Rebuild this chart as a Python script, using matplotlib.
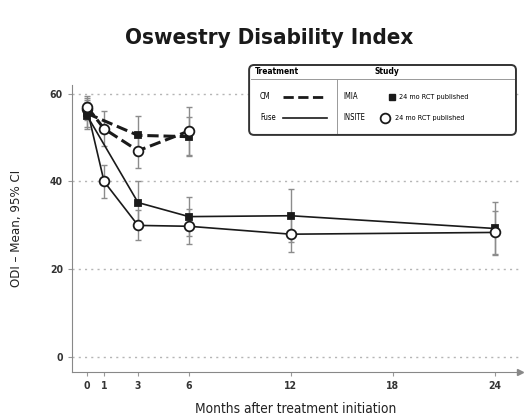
import numpy as np
import matplotlib.pyplot as plt
from matplotlib.patches import FancyBboxPatch
from matplotlib.lines import Line2D

plt.rcParams['font.family'] = ['DejaVu Sans']
plt.rcParams['font.stretch'] = 'condensed'
plt.rcParams['figure.dpi'] = 100

# data: mean ODI and half width of 95% CI
imia_cm_x = [0, 3, 6]
imia_cm_y = [55.5, 50.5, 50.2]
imia_cm_ci = [3.0, 4.5, 4.5]

insite_cm_x = [0, 1, 3, 6]
insite_cm_y = [57.0, 52.0, 47.0, 51.5]
insite_cm_ci = [2.5, 4.0, 4.0, 5.5]

imia_fuse_x = [0, 3, 6, 12, 24]
imia_fuse_y = [55.0, 35.2, 32.0, 32.2, 29.3]
imia_fuse_ci = [3.0, 5.0, 4.5, 6.0, 6.0]

insite_fuse_x = [0, 1, 3, 6, 12, 24]
insite_fuse_y = [56.5, 40.0, 30.0, 29.8, 28.0, 28.4]
insite_fuse_ci = [2.5, 3.8, 3.4, 4.0, 4.0, 4.8]

x_ticks = [0, 1, 3, 6, 12, 18, 24]
y_ticks = [0, 20, 40, 60]

line_col = '#1a1a1a'
err_col = '#8c8c8c'

fig = plt.figure(figsize=(5.28, 4.2))
ax = fig.add_axes([0.136, 0.114, 0.849, 0.684])

series = [
    (imia_fuse_x, imia_fuse_y, imia_fuse_ci, '-', 's', line_col),
    (insite_fuse_x, insite_fuse_y, insite_fuse_ci, '-', 'o', 'white'),
    (imia_cm_x, imia_cm_y, imia_cm_ci, '--', 's', line_col),
    (insite_cm_x, insite_cm_y, insite_cm_ci, '--', 'o', 'white'),
]
for xs, ys, ci, ls, mk, fc in series:
    ax.errorbar(xs, ys, yerr=ci, fmt='none', ecolor=err_col, elinewidth=1.0,
                capsize=2.5, capthick=1.0, zorder=2)
    lw = 2.2 if ls == '--' else 1.2
    ax.plot(xs, ys, linestyle=ls, color=line_col, lw=lw, marker=mk,
            markersize=7 if mk == 'o' else 5, markerfacecolor=fc,
            markeredgecolor=line_col, markeredgewidth=1.3, zorder=3)

for v in y_ticks:
    ax.axhline(v, color='#b5b5b5', lw=1.0, ls=(0, (1.5, 3)), zorder=1)

ax.set_xlim(-0.9, 25.5)
ax.set_ylim(-3.4, 62)
ax.set_xticks(x_ticks)
ax.set_yticks(y_ticks)
ax.tick_params(axis='both', labelsize=7.5, colors='#333333', length=3, color='#999999')
for t in ax.get_xticklabels() + ax.get_yticklabels():
    t.set_fontweight('bold')
ax.spines['top'].set_visible(False)
ax.spines['right'].set_visible(False)
ax.spines['left'].set_color('#888888')
ax.spines['bottom'].set_color('#888888')
ax.plot(1, 0, '>', color='#888888', markersize=5, transform=ax.transAxes, clip_on=False)
ax.set_xlabel('Months after treatment initiation', fontsize=9.8, color='#222222', labelpad=8)
ax.set_ylabel('ODI \u2013 Mean, 95% CI', fontsize=9.5, color='#222222', labelpad=19)

fig.text(0.51, 0.91, 'Oswestry Disability Index', ha='center', va='center',
         fontsize=16, fontweight='bold', color='#1a1a1a')

# legend box
lg = fig.add_axes([0.468, 0.674, 0.513, 0.176])
lg.set_xlim(0, 271)
lg.set_ylim(74, 0)
lg.axis('off')
lg.add_patch(FancyBboxPatch((2, 2), 267, 70, boxstyle='round,pad=0,rounding_size=5',
                            fc='white', ec='#333333', lw=1.4))
lg.plot([4, 267], [16, 16], color='#999999', lw=0.7)
lg.plot([90, 90], [16, 70], color='#999999', lw=0.7)
lg.text(30, 9, 'Treatment', fontsize=6, fontweight='bold', ha='center', va='center')
lg.text(140, 9, 'Study', fontsize=6, fontweight='bold', ha='center', va='center')
lg.text(18, 34, 'CM', fontsize=5.5, ha='center', va='center')
lg.text(21, 55, 'Fuse', fontsize=5.5, ha='center', va='center')
lg.add_line(Line2D([36, 80], [34, 34], color=line_col, lw=2, ls='--'))
lg.add_line(Line2D([36, 80], [55, 55], color=line_col, lw=1.2))
lg.text(104, 34, 'IMIA', fontsize=5.5, ha='center', va='center')
lg.text(107, 55, 'INSITE', fontsize=5.5, ha='center', va='center')
lg.plot([145], [34], 's', color=line_col, markersize=5)
lg.plot([138], [55], 'o', mfc='white', mec=line_col, markersize=7, mew=1.3)
lg.text(152, 34, '24 mo RCT published', fontsize=5.2, ha='left', va='center')
lg.text(148, 55, '24 mo RCT published', fontsize=5.2, ha='left', va='center')

fig.savefig('out.png', dpi=100)
